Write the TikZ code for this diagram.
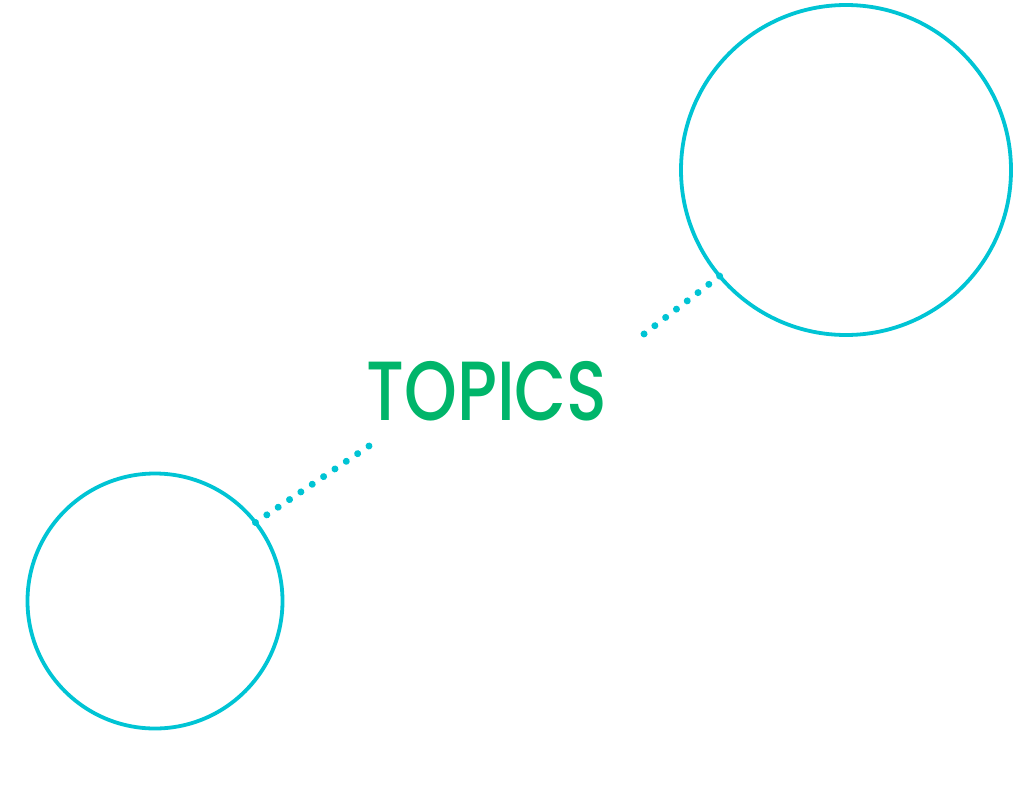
\documentclass[tikz,border=0pt]{standalone}
\usepackage{fontspec}
\usetikzlibrary{decorations.markings}
\newfontfamily\topicfont{Poppins Medium}
\definecolor{ringcyan}{HTML}{00C4D4}
\definecolor{topicgreen}{HTML}{00B56A}
\begin{document}
\begin{tikzpicture}[x=1pt,y=-1pt,
  ring/.style={circle,draw=ringcyan,line width=3.8pt,inner sep=0pt,outer sep=0pt},
  dotline/.style={postaction={decorate,decoration={markings,
     mark=between positions 0 and 1 step #1 with {\fill[ringcyan] (0,0) circle (3.5pt);}}}}]
\useasboundingbox (0,0) rectangle (1024,784);
\node[ring,minimum size=330pt] (big) at (846,170) {};
\node[ring,minimum size=255pt] (small) at (155,601) {};
\node[text=topicgreen,inner sep=0pt,font=\topicfont\fontsize{84}{84}\selectfont,xscale=0.8] (topics) at (487,391) {TOPICS};
\coordinate (e1) at (644,334);
\coordinate (e2) at (369,446);
\path[dotline=0.14285] (big.220.8) -- (e1);
\path[dotline=0.09999] (small.38.8) -- (e2);
\end{tikzpicture}
\end{document}
